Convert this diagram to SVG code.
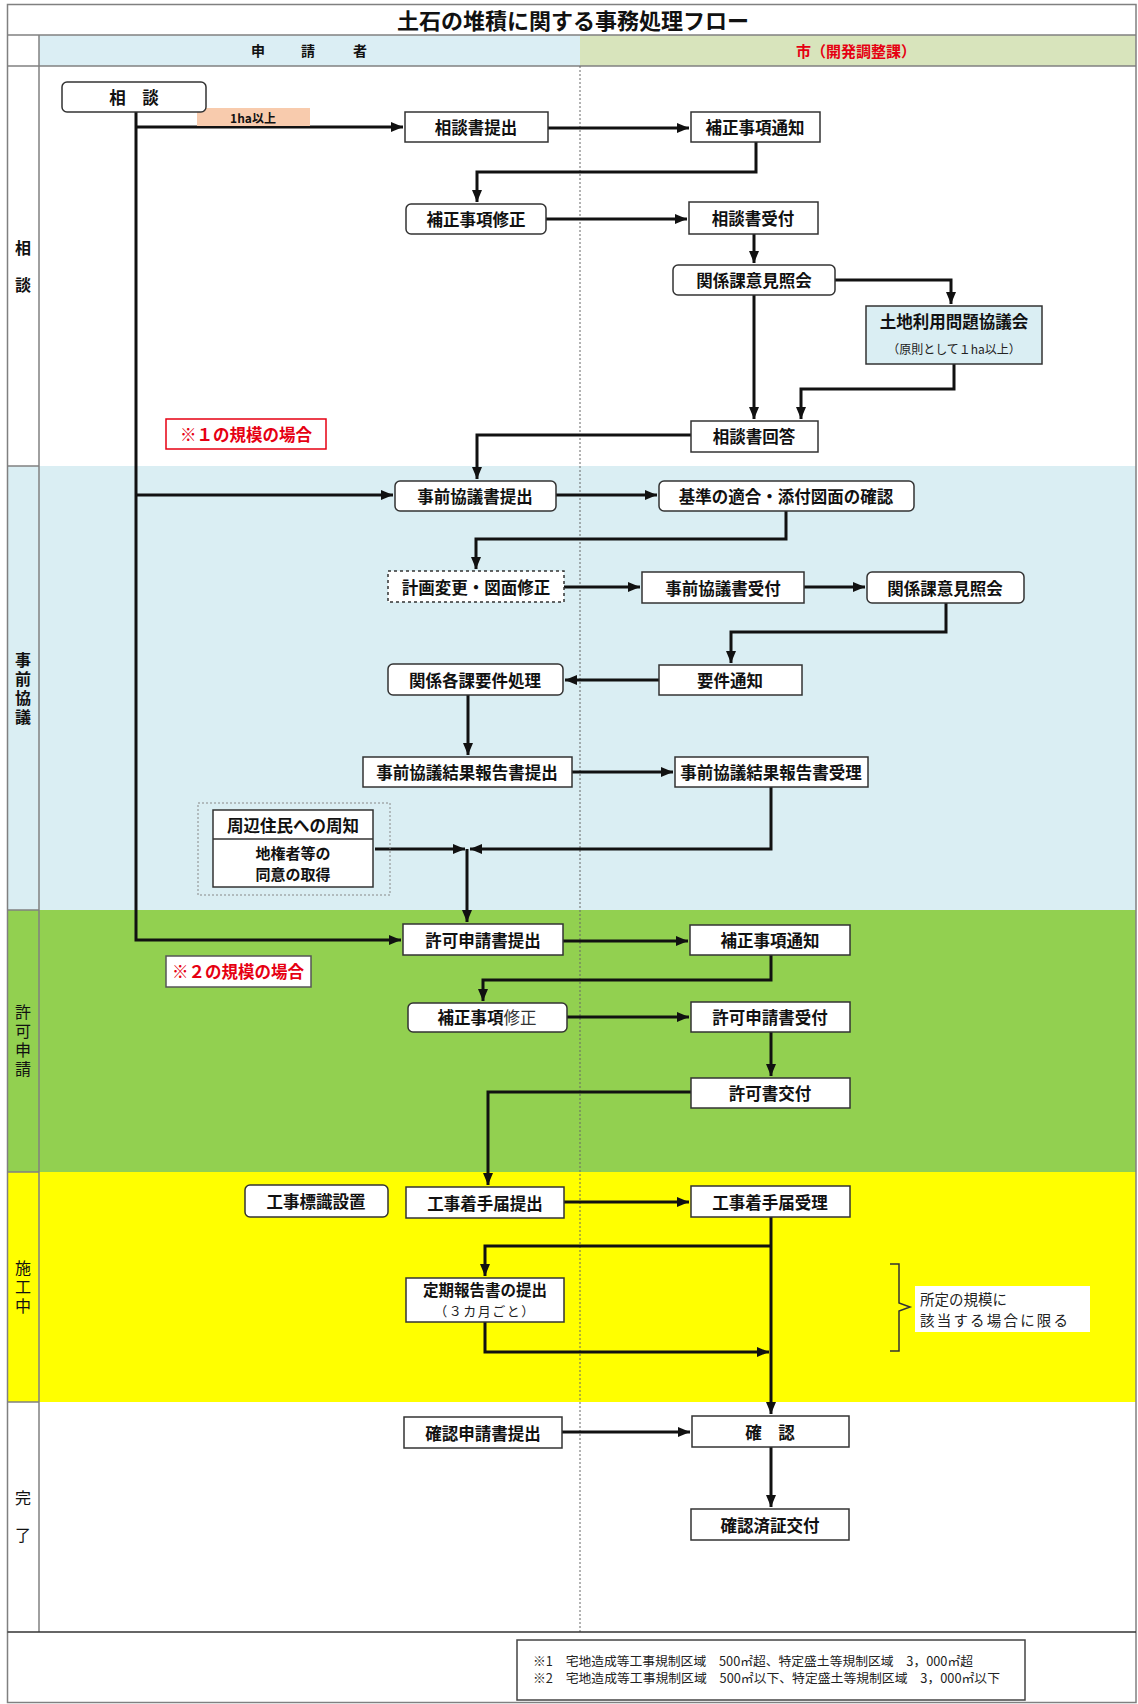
<svg xmlns="http://www.w3.org/2000/svg" width="1138" height="1704" viewBox="0 0 1138 1704">
<style>
text{font-family:"Noto Sans CJK JP","Noto Sans CJK SC",sans-serif;}
.b{font-weight:700;font-size:16.5px;fill:#111;text-anchor:middle;dominant-baseline:central;}
.n{font-weight:400;fill:#222;text-anchor:middle;dominant-baseline:central;}
.vl{font-size:16px;fill:#111;writing-mode:vertical-rl;text-anchor:start;}
.box{fill:#fff;stroke:#333;stroke-width:1.5;}
.grid{stroke:#808080;stroke-width:1.5;fill:none;}
.ln{fill:none;stroke:#111;stroke-width:3;}
.red{fill:#e60012;}
</style>
<defs>
<marker id="ah" viewBox="0 0 12 10" refX="12" refY="5" markerWidth="12" markerHeight="10" markerUnits="userSpaceOnUse" orient="auto">
<path d="M0,0 L12,5 L0,10 z" fill="#111"/>
</marker>
</defs>

<g id="background">
<rect x="0" y="0" width="1138" height="1704" fill="#fff"/>
<rect x="39" y="35" width="541" height="31" fill="#dbeef4"/>
<rect x="580" y="35" width="556" height="31" fill="#d8e4bc"/>
<rect x="8" y="466" width="1128" height="444" fill="#daeef3"/>
<rect x="8" y="910" width="1128" height="262" fill="#92d050"/>
<rect x="8" y="1172" width="1128" height="230" fill="#ffff00"/>
</g>

<g id="grid">
<rect x="7.5" y="4.5" width="1128.5" height="1698" class="grid"/>
<line x1="7.5" y1="35" x2="1136" y2="35" class="grid"/>
<line x1="7.5" y1="66" x2="1136" y2="66" class="grid"/>
<line x1="39" y1="35" x2="39" y2="1632" class="grid"/>
<line x1="7.5" y1="466" x2="39" y2="466" class="grid"/>
<line x1="7.5" y1="910" x2="39" y2="910" class="grid"/>
<line x1="7.5" y1="1172" x2="39" y2="1172" class="grid"/>
<line x1="7.5" y1="1402" x2="39" y2="1402" class="grid"/>
<line x1="580" y1="66" x2="580" y2="1632" stroke="#666" stroke-width="1" stroke-dasharray="2,2"/>
<line x1="7.5" y1="1632" x2="1136" y2="1632" stroke="#333" stroke-width="1.5"/>
</g>

<g id="titles">
<text x="573" y="19" class="b" style="font-size:22px">土石の堆積に関する事務処理フロー</text>
<text y="50" class="b" style="font-size:14px"><tspan x="258">申</tspan><tspan x="308">請</tspan><tspan x="360">者</tspan></text>
<text x="856" y="50" class="b red" style="font-size:15px">市（開発調整課）</text>
</g>

<g id="lanes">
<text x="23" y="240" class="vl" style="font-weight:700;letter-spacing:21px">相談</text>
<text x="23" y="652" class="vl" style="font-weight:700;letter-spacing:3px">事前協議</text>
<text x="23" y="1004" class="vl" style="font-weight:400;letter-spacing:3px">許可申請</text>
<text x="23" y="1260" class="vl" style="font-weight:400;letter-spacing:3px">施工中</text>
<text x="23" y="1490" class="vl" style="font-weight:400;letter-spacing:21px">完了</text>
</g>

<g id="connectors">
<path class="ln" d="M136,112 V940 H401" marker-end="url(#ah)"/>
<path class="ln" d="M136,127 H403" marker-end="url(#ah)"/>
<path class="ln" d="M136,495 H393" marker-end="url(#ah)"/>
<path class="ln" d="M548,128 H689" marker-end="url(#ah)"/>
<path class="ln" d="M756,142 V172 H477 V202" marker-end="url(#ah)"/>
<path class="ln" d="M546,219 H687" marker-end="url(#ah)"/>
<path class="ln" d="M754,234 V263" marker-end="url(#ah)"/>
<path class="ln" d="M835,280 H951 V304" marker-end="url(#ah)"/>
<path class="ln" d="M754,295 V419" marker-end="url(#ah)"/>
<path class="ln" d="M954,364 V389 H801 V419" marker-end="url(#ah)"/>
<path class="ln" d="M691,435 H477 V479" marker-end="url(#ah)"/>
<path class="ln" d="M556,495 H657" marker-end="url(#ah)"/>
<path class="ln" d="M786,511 V539 H476 V569" marker-end="url(#ah)"/>
<path class="ln" d="M564,587 H640" marker-end="url(#ah)"/>
<path class="ln" d="M804,587 H865" marker-end="url(#ah)"/>
<path class="ln" d="M946,603 V632 H731 V663" marker-end="url(#ah)"/>
<path class="ln" d="M659,680 H565" marker-end="url(#ah)"/>
<path class="ln" d="M468,695 V755" marker-end="url(#ah)"/>
<path class="ln" d="M572,772 H673" marker-end="url(#ah)"/>
<path class="ln" d="M771,787 V849 H470" marker-end="url(#ah)"/>
<path class="ln" d="M375,849 H465" marker-end="url(#ah)"/>
<path class="ln" d="M467,849 V922" marker-end="url(#ah)"/>
<path class="ln" d="M563,941 H688" marker-end="url(#ah)"/>
<path class="ln" d="M771,955 V980 H483 V1001" marker-end="url(#ah)"/>
<path class="ln" d="M567,1017 H689" marker-end="url(#ah)"/>
<path class="ln" d="M771,1032 V1076" marker-end="url(#ah)"/>
<path class="ln" d="M691,1092 H488 V1185" marker-end="url(#ah)"/>
<path class="ln" d="M564,1202 H689" marker-end="url(#ah)"/>
<path class="ln" d="M771,1217 V1414" marker-end="url(#ah)"/>
<path class="ln" d="M771,1246 H485 V1276" marker-end="url(#ah)"/>
<path class="ln" d="M485,1322 V1352 H769" marker-end="url(#ah)"/>
<path class="ln" d="M562,1432 H690" marker-end="url(#ah)"/>
<path class="ln" d="M771,1447 V1507" marker-end="url(#ah)"/>
</g>

<g id="label-1ha">
<rect x="197" y="108" width="113" height="18" fill="#f8cbad"/>
<text x="253" y="117" class="b" style="font-size:12px">1ha以上</text>
</g>

<g id="n-soudan"><rect class="box" x="62" y="82" width="144" height="30" rx="5"/><text x="134" y="97" class="b">相　談</text></g>
<g id="n-soudansho-teishutsu"><rect class="box" x="405" y="112" width="143" height="30"/><text x="476" y="127" class="b">相談書提出</text></g>
<g id="n-hosei-tsuchi-1"><rect class="box" x="691" y="112" width="129" height="30"/><text x="755" y="127" class="b">補正事項通知</text></g>
<g id="n-hosei-shusei-1"><rect class="box" x="406" y="204" width="140" height="30" rx="5"/><text x="476" y="219" class="b">補正事項修正</text></g>
<g id="n-soudansho-uketsuke"><rect class="box" x="689" y="202" width="129" height="32"/><text x="753" y="218" class="b">相談書受付</text></g>
<g id="n-kankeika-1"><rect class="box" x="673" y="265" width="162" height="30" rx="5"/><text x="754" y="280" class="b">関係課意見照会</text></g>
<g id="n-tochiriyou"><rect class="box" x="866" y="306" width="176" height="58" style="fill:#daeef3"/><text x="954" y="321" class="b">土地利用問題協議会</text><text x="954" y="348" class="n" style="font-size:12px">（原則として１ha以上）</text></g>
<g id="n-soudansho-kaito"><rect class="box" x="691" y="421" width="127" height="31"/><text x="754" y="436" class="b">相談書回答</text></g>
<g id="note-1"><rect x="166" y="419" width="160" height="30" fill="#fff" stroke="#e60012" stroke-width="1.5"/><text x="246" y="434" class="b red">※１の規模の場合</text></g>

<g id="n-jizen-teishutsu"><rect class="box" x="395" y="481" width="161" height="30" rx="5"/><text x="475" y="496" class="b">事前協議書提出</text></g>
<g id="n-kijun"><rect class="box" x="659" y="481" width="255" height="30" rx="5"/><text x="786" y="496" class="b">基準の適合・添付図面の確認</text></g>
<g id="n-keikaku-henkou"><rect class="box" x="388" y="571" width="176" height="31" style="stroke-dasharray:3,3"/><text x="476" y="587" class="b">計画変更・図面修正</text></g>
<g id="n-jizen-uketsuke"><rect class="box" x="642" y="572" width="162" height="31"/><text x="723" y="588" class="b">事前協議書受付</text></g>
<g id="n-kankeika-2"><rect class="box" x="867" y="572" width="157" height="31" rx="5"/><text x="945" y="588" class="b">関係課意見照会</text></g>
<g id="n-youken-tsuchi"><rect class="box" x="659" y="665" width="143" height="30"/><text x="730" y="680" class="b">要件通知</text></g>
<g id="n-kankei-kakuka"><rect class="box" x="388" y="664" width="175" height="31" rx="5"/><text x="475" y="680" class="b">関係各課要件処理</text></g>
<g id="n-kekka-teishutsu"><rect class="box" x="363" y="757" width="209" height="30"/><text x="467" y="772" class="b">事前協議結果報告書提出</text></g>
<g id="n-kekka-juri"><rect class="box" x="675" y="757" width="193" height="30"/><text x="771" y="772" class="b">事前協議結果報告書受理</text></g>
<g id="n-shuuhen">
<rect x="198" y="803" width="192" height="92" fill="none" stroke="#888" stroke-width="1" stroke-dasharray="2,2"/>
<rect class="box" x="213" y="810" width="160" height="77"/>
<line x1="213" y1="839" x2="373" y2="839" stroke="#333" stroke-width="1.5"/>
<text x="293" y="825" class="b">周辺住民への周知</text>
<text class="b" style="font-size:15px"><tspan x="293" y="852">地権者等の</tspan><tspan x="293" y="873">同意の取得</tspan></text>
</g>

<g id="n-kyoka-teishutsu"><rect class="box" x="403" y="924" width="160" height="31"/><text x="483" y="940" class="b">許可申請書提出</text></g>
<g id="note-2"><rect x="166" y="956" width="145" height="31" fill="#fff" stroke="#555" stroke-width="1.5"/><text x="238" y="971" class="b red">※２の規模の場合</text></g>
<g id="n-hosei-tsuchi-2"><rect class="box" x="690" y="925" width="160" height="30"/><text x="770" y="940" class="b">補正事項通知</text></g>
<g id="n-hosei-shusei-2"><rect class="box" x="408" y="1003" width="159" height="29" rx="5"/><text x="487" y="1017" class="b">補正事項<tspan style="font-weight:400;fill:#333">修正</tspan></text></g>
<g id="n-kyoka-uketsuke"><rect class="box" x="691" y="1002" width="159" height="30"/><text x="770" y="1017" class="b">許可申請書受付</text></g>
<g id="n-kyokasho-koufu"><rect class="box" x="691" y="1078" width="159" height="30"/><text x="770" y="1093" class="b">許可書交付</text></g>

<g id="n-kouji-hyoushiki"><rect class="box" x="245" y="1185" width="143" height="32" rx="5"/><text x="316" y="1201" class="b">工事標識設置</text></g>
<g id="n-chakushu-teishutsu"><rect class="box" x="406" y="1187" width="158" height="31"/><text x="485" y="1203" class="b">工事着手届提出</text></g>
<g id="n-chakushu-juri"><rect class="box" x="691" y="1186" width="159" height="31"/><text x="770" y="1202" class="b">工事着手届受理</text></g>
<g id="n-teiki-houkoku"><rect class="box" x="406" y="1278" width="158" height="44"/><text class="b" style="font-size:15.5px"><tspan x="485" y="1289">定期報告書の提出</tspan><tspan x="485" y="1310" style="font-weight:400;fill:#222;font-size:13px;letter-spacing:1.5px">（３カ月ごと）</tspan></text></g>
<g id="note-brace">
<path d="M890,1264 H899 V1303 L910,1307 L899,1311 V1351 H890" fill="none" stroke="#333" stroke-width="1.5"/>
<rect x="915" y="1286" width="175" height="46" fill="#fff"/>
<text class="n" style="font-size:14.5px;text-anchor:start"><tspan x="920" y="1298">所定の規模に</tspan><tspan x="920" y="1319" textLength="148" lengthAdjust="spacing">該当する場合に限る</tspan></text>
</g>

<g id="n-kakunin-teishutsu"><rect class="box" x="404" y="1417" width="158" height="31"/><text x="483" y="1433" class="b">確認申請書提出</text></g>
<g id="n-kakunin"><rect class="box" x="692" y="1416" width="157" height="31"/><text x="770" y="1432" class="b">確　認</text></g>
<g id="n-kakuninzumi"><rect class="box" x="691" y="1509" width="158" height="31"/><text x="770" y="1525" class="b">確認済証交付</text></g>

<g id="footnotes">
<rect x="517" y="1640" width="508" height="60" fill="#fff" stroke="#444" stroke-width="1.5"/>
<text x="533" y="1660" class="n" style="font-size:12.5px;text-anchor:start" textLength="440" lengthAdjust="spacingAndGlyphs">※1　宅地造成等工事規制区域　500㎡超、特定盛土等規制区域　3，000㎡超</text>
<text x="533" y="1677" class="n" style="font-size:12.5px;text-anchor:start" textLength="467" lengthAdjust="spacingAndGlyphs">※2　宅地造成等工事規制区域　500㎡以下、特定盛土等規制区域　3，000㎡以下</text>
</g>
</svg>
